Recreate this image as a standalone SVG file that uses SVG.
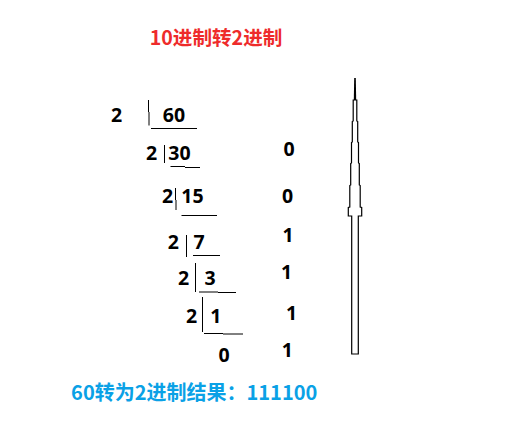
<svg xmlns="http://www.w3.org/2000/svg" width="510" height="438" viewBox="0 0 510 438">
<style>
.t{font-family:"Noto Sans CJK SC","Noto Sans",sans-serif;font-weight:bold;}
.d{font-family:"Noto Sans","Noto Sans CJK SC",sans-serif;font-weight:bold;font-size:19.5px;fill:#000;text-anchor:middle;}
.title{font-size:19.6px;fill:#ee2b2b;text-anchor:middle;}
.res{font-size:20px;fill:#0aa1e6;text-anchor:middle;}
.ln{stroke:#000;stroke-width:1;fill:none;}
</style>
<rect width="510" height="438" fill="#fff"/>
<g id="title"><text class="t title" x="216" y="44.5">10进制转2进制</text></g>
<g id="row60">
<text class="d" x="116.7" y="121.7">2</text>
<text class="d" x="174" y="121.7">60</text>
</g>
<g id="row30">
<text class="d" x="151.7" y="160">2</text>
<text class="d" x="179.5" y="160">30</text>
<text class="d" x="289" y="156">0</text>
</g>
<g id="row15">
<text class="d" x="167.7" y="203">2</text>
<text class="d" x="192.5" y="203">15</text>
<text class="d" x="287.5" y="203">0</text>
</g>
<g id="row7">
<text class="d" x="173.3" y="249">2</text>
<text class="d" x="199" y="249">7</text>
<text class="d" x="288" y="242">1</text>
</g>
<g id="row3">
<text class="d" x="183.7" y="285">2</text>
<text class="d" x="210" y="285">3</text>
<text class="d" x="286.7" y="278.5">1</text>
</g>
<g id="row1">
<text class="d" x="191.7" y="323">2</text>
<text class="d" x="215.8" y="323">1</text>
<text class="d" x="291.7" y="320">1</text>
</g>
<g id="row0">
<text class="d" x="224" y="361.7">0</text>
<text class="d" x="287.3" y="357">1</text>
</g>
<g id="connectors">
<path class="ln" d="M148.5 100V112M149 112V125.5"/>
<path class="ln" d="M151 128.5H197"/>
<path class="ln" d="M164.5 145V163"/>
<path class="ln" d="M170.5 166.5H185M185 167.5H200"/>
<path class="ln" d="M175.5 188V200M176 200V210"/>
<path class="ln" d="M181.5 215.5H217"/>
<path class="ln" d="M186.5 235V257"/>
<path class="ln" d="M193 255.5H220"/>
<path class="ln" d="M195.5 263V292"/>
<path class="ln" d="M199 292H218M218 292.5H236"/>
<path class="ln" d="M202.5 297V332"/>
<path class="ln" d="M204 333.5H223M223 334H243"/>
</g>
<g id="needle">
<path d="M354.2 78L355.8 78L356.2 100L353.8 100Z" fill="#000"/>
<path d="M353.2 100V121L352.3 121.5V142L351.5 142.5V163L350.7 163.5V185L349.8 185.5V207L348.3 207.5V216H351.7V354H358.3V216H361.7V207.5L360.2 207V185.5L359.3 185V163.5L358.5 163V142.5L357.7 142V121.5L356.8 121V100Z" fill="#fff" stroke="#000" stroke-width="1.2"/>
</g>
<g id="result"><text class="t res" x="194.2" y="400">60转为2进制结果：111100</text></g>
</svg>
